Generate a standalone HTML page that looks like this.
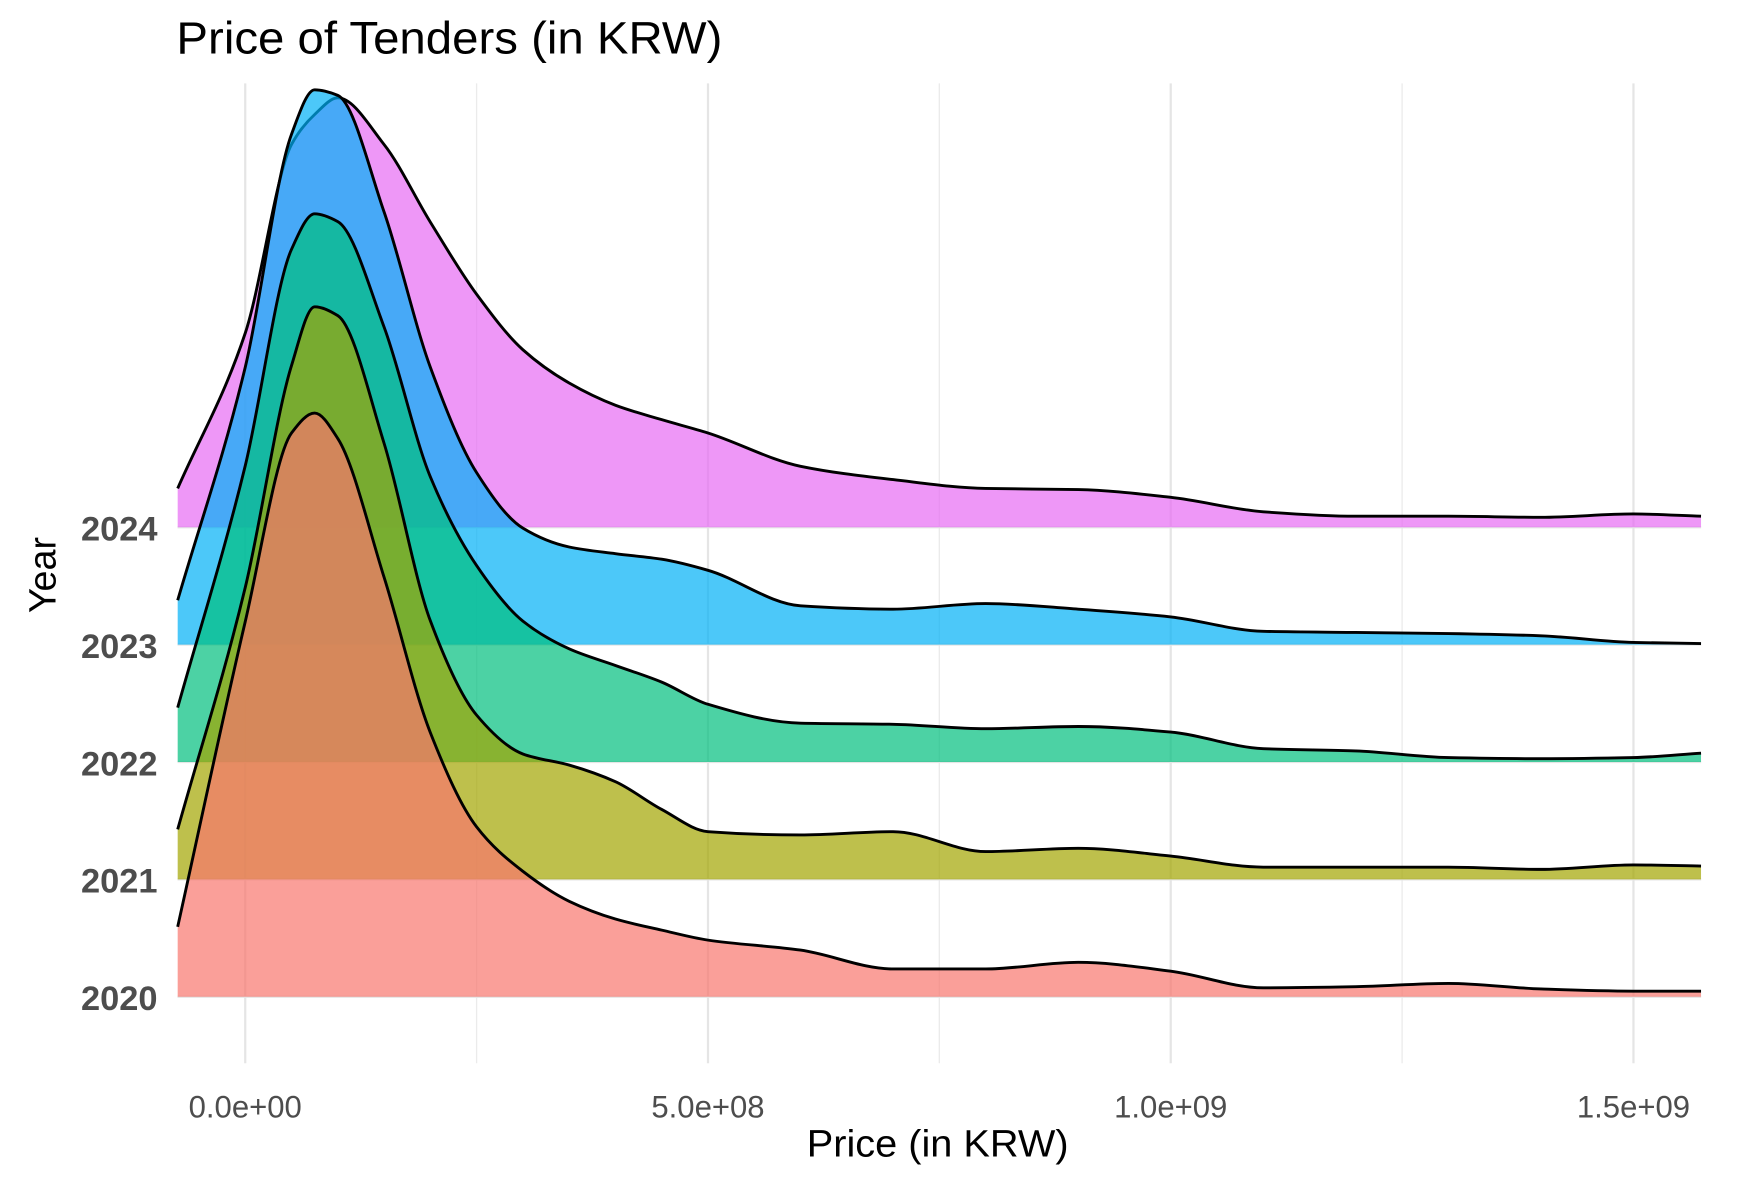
<!DOCTYPE html>
<html><head><meta charset="utf-8"><style>
html,body{margin:0;padding:0;background:#fff;}
svg{display:block;font-family:"Liberation Sans",Arial,sans-serif;}
</style></head><body>
<svg id="chart" width="1740" height="1190" viewBox="0 0 1568 1072" xmlns="http://www.w3.org/2000/svg">
<rect width="1568" height="1072" fill="#fff"/>
<text x="159" y="48" font-size="41" fill="#000" textLength="492" lengthAdjust="spacingAndGlyphs">Price of Tenders (in KRW)</text>
<g id="grid"></g>
<g id="ridges"></g>
<g id="yticks"></g>
<g id="xticks"></g>
<text x="845" y="1042" font-size="34" text-anchor="middle" fill="#000" textLength="236" lengthAdjust="spacingAndGlyphs">Price (in KRW)</text>
<text transform="translate(50,518) rotate(-90)" font-size="34" text-anchor="middle" fill="#000">Year</text>
</svg>
<script>
// x sample positions (price, in units of 1e8 KRW)
const xs = [-0.73,0,0.5,0.75,1,1.5,2,2.5,3,3.5,4,4.5,5,6,7,8,9,10,11,12,13,14,15,15.73];
const years = ["2020","2021","2022","2023","2024"];
const d2020 = [63,338,508,526,503,378,238,153,113,86,70,60,51,42,25,25,31,23,8,9,12,7,5,5];
const d2021 = [45,263,463,516,508,393,233,148,113,103,88,63,43,40,43,25,28,21,11,11,11,9,13,12];
const d2022 = [49,267,462,494,487,392,257,177,127,102,87,72,52,35,34,30,32,27,12,10,4,3,4,8];
const d2023 = [40,250,460,500,495,390,250,155,105,88,82,77,67,35,32,37,32,25,12,11,10,8,2,1];
const d2024 = [35,175,345,372,387,345,275,210,160,130,110,97,85,55,43,35,34,27,14,10,10,9,12,10];
const xTickVals = [0,5,10,15];
const xTickLabels = ["0.0e+00","5.0e+08","1.0e+09","1.5e+09"];
const minorVals = [2.5,7.5,12.5];

const series = [d2020,d2021,d2022,d2023,d2024];
const colors = ["#F8766D","#A3A500","#00BF7D","#00B0F6","#E76BF3"];
const X0=221, XPX=83.4;
const xScale = v => X0 + v*XPX;
const BASE0=898, STEP=105.75;
const baseY = i => BASE0 - i*STEP;
const hScale = v => v;
const PL=160, PR=1533, PT=75, PB=958;
const NS="http://www.w3.org/2000/svg";
function mk(tag, attrs, parent){const e=document.createElementNS(NS,tag);for(const k in attrs)e.setAttribute(k,attrs[k]);parent.appendChild(e);return e;}

const grid=document.getElementById('grid');
minorVals.forEach(v=>{
  const l=mk('line',{x1:xScale(v),x2:xScale(v),y1:PT,y2:PB,stroke:'#ebebeb','stroke-width':1.2},grid);
  
  
});
xTickVals.forEach(v=>{
  const l=mk('line',{x1:xScale(v),x2:xScale(v),y1:PT,y2:PB,stroke:'#e5e5e5','stroke-width':2},grid);
  
  
});
years.forEach((y,i)=>{
  const l=mk('line',{x1:PL,x2:PR,y1:baseY(i),y2:baseY(i),stroke:'#e5e5e5','stroke-width':2},grid);
  
  
});

// monotone cubic (Fritsch-Carlson)
function smoothPath(pts){
  const n=pts.length, dx=[], dy=[], m=[], t=[];
  for(let i=0;i<n-1;i++){dx[i]=pts[i+1][0]-pts[i][0];dy[i]=pts[i+1][1]-pts[i][1];m[i]=dy[i]/dx[i];}
  t[0]=m[0]; t[n-1]=m[n-2];
  for(let i=1;i<n-1;i++){
    if(m[i-1]*m[i]<=0) t[i]=0;
    else { const w1=2*dx[i]+dx[i-1], w2=dx[i]+2*dx[i-1]; t[i]=(w1+w2)/(w1/m[i-1]+w2/m[i]); }
  }
  let d=`M${pts[0][0]},${pts[0][1]}`;
  for(let i=0;i<n-1;i++){
    const h=dx[i]/3;
    d+=` C${pts[i][0]+h},${pts[i][1]+t[i]*h} ${pts[i+1][0]-h},${pts[i+1][1]-t[i+1]*h} ${pts[i+1][0]},${pts[i+1][1]}`;
  }
  return d;
}
const ridges=document.getElementById('ridges');
for(let i=series.length-1;i>=0;i--){
  const b=baseY(i);
  const pts=xs.map((x,j)=>[xScale(x),b-hScale(series[i][j])]);
  const line=smoothPath(pts);
  const area=line+` L${xScale(xs[xs.length-1])},${b} L${xScale(xs[0])},${b} Z`;
  const a=mk('path',{d:area,fill:colors[i],'fill-opacity':0.7,stroke:'none'},ridges);
  
  
  const l=mk('path',{d:line,fill:'none',stroke:'#000','stroke-width':2.6},ridges);
  
  
}
const yt=document.getElementById('yticks');
years.forEach((y,i)=>{
  const t=mk('text',{x:142,y:baseY(i)+12,'font-size':31,'font-weight':'bold','text-anchor':'end',fill:'#4d4d4d'},yt);
  t.textContent=y;
  
  
});
const xt=document.getElementById('xticks');
xTickVals.forEach((v,i)=>{
  const t=mk('text',{x:xScale(v),y:1007,'font-size':28,'text-anchor':'middle',fill:'#4d4d4d'},xt);
  t.textContent=xTickLabels[i];
  
  
});
</script>
</body></html>
